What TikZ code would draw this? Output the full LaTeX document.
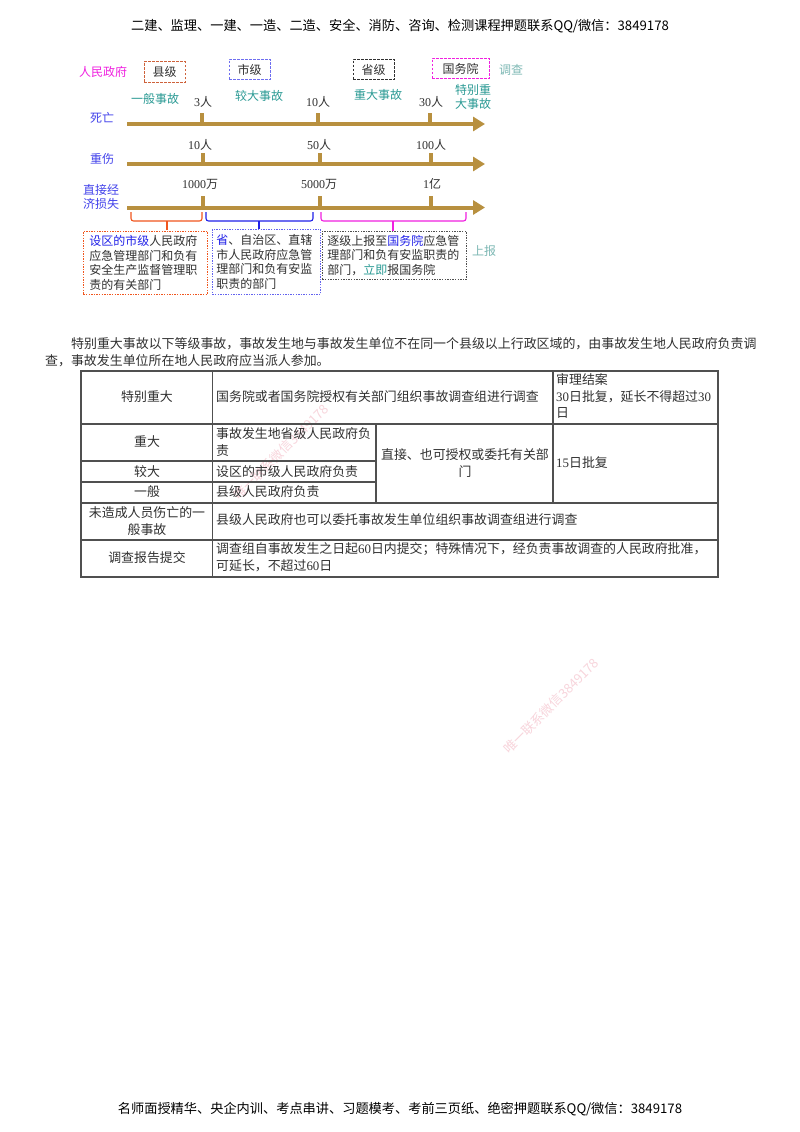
\documentclass[tikz,border=0pt]{standalone}
\usepackage{fontspec}
\setmainfont{Noto Sans CJK SC}
\newfontfamily\latf{Liberation Serif}
\usetikzlibrary{arrows.meta}
\newcommand{\dg}[1]{{\latf #1}}
\definecolor{axisc}{HTML}{B8903F}
\definecolor{tealc}{HTML}{2A9A94}
\definecolor{lteal}{HTML}{7DB8B4}
\definecolor{blk}{HTML}{303030}
\definecolor{wm}{HTML}{F8D5DC}
\definecolor{grid}{HTML}{505050}
\definecolor{orc}{HTML}{F0561E}
\definecolor{blc}{HTML}{2020E8}
\definecolor{mgc}{HTML}{F020E0}
\tikzset{
 lab/.style={inner sep=0pt,text=blk,align=center,font=\fontsize{12}{14.7}\selectfont},
 tealt/.style={lab,text=tealc},
 bluet/.style={lab,text=blc!85!white},
 headt/.style={inner sep=0pt,text=black,font=\fontsize{13.2}{15}\selectfont},
 para/.style={inner sep=0pt,anchor=west,text=blk,font=\fontsize{12.93}{15}\selectfont},
 cell/.style={inner sep=0pt,text=blk,align=center,font=\fontsize{12.9}{16.5}\selectfont},
 cellw/.style={cell,anchor=west,align=left},
 axisl/.style={draw=axisc,line width=4pt,-{Triangle[length=12pt,width=14pt,fill=axisc]}},
 tickl/.style={draw=axisc,line width=3.6pt},
 brace/.style={line width=1.1pt,rounded corners=2.5pt},
 lvl/.style={lab,draw,line width=.8pt,minimum height=20.5pt,dash pattern=on 2.5pt off 1.5pt},
 dotbox/.style={lab,anchor=north west,align=left,line width=.9pt,dash pattern=on 1.4pt off 1.2pt},
 grl/.style={draw=grid,line width=1.5pt},
 water/.style={inner sep=0pt,text=wm,rotate=45,font=\fontsize{13}{15}\selectfont},
}
\begin{document}
\begin{tikzpicture}[x=1pt,y=-1pt]
\useasboundingbox[fill=white] (0,0) rectangle (800,1132);
% header and footer
\node[headt] (hd) at (400,26) {二建、监理、一建、一造、二造、安全、消防、咨询、检测课程押题联系QQ/微信：3849178};
\node[headt] (ft) at (400,1109) {名师面授精华、央企内训、考点串讲、习题模考、考前三页纸、绝密押题联系QQ/微信：3849178};
% watermarks
\node[water] (wm1) at (281,452) {唯一联系微信3849178};
\node[water] (wm2) at (551,706) {唯一联系微信3849178};
% top level boxes
\node[lab,text=mgc] (gov) at (103,72) {人民政府};
\node[lvl,draw=orc!70!gray,minimum width=41pt] (xian) at (164.5,72) {县级};
\node[lvl,draw=blc!65!white,minimum width=41pt] (shi) at (249.5,69.5) {市级};
\node[lvl,draw=blk,minimum width=41pt] (sheng) at (373.5,69.5) {省级};
\node[lvl,draw=mgc,minimum width=57pt] (gwy) at (460.5,68.5) {国务院};
\node[lab,text=lteal] (dc) at (511,70) {调查};
% grade labels
\node[tealt] (g1) at (155,99) {一般事故};
\node[tealt] (g2) at (259,96) {较大事故};
\node[tealt] (g3) at (378,95) {重大事故};
\node[tealt] (g4) at (473,97) {特别重\\大事故};
% rows
\node[bluet] (r1) at (102,118) {死亡};
\node[bluet] (r2) at (102,159) {重伤};
\node[bluet] (r3) at (101,197) {直接经\\济损失};
% axes
\coordinate (a1s) at (127,124); \coordinate (a1e) at (485,124);
\coordinate (a2s) at (127,164); \coordinate (a2e) at (485,164);
\coordinate (a3s) at (127,207.5); \coordinate (a3e) at (485,207.5);
\draw[axisl] (a1s) -- (a1e);
\draw[axisl] (a2s) -- (a2e);
\draw[axisl] (a3s) -- (a3e);
% ticks
\foreach \nm/\x/\yt/\yb in {a/202/113/124,b/318/113/124,c/430/113/124,d/203/153/164,e/320/153/164,f/431/153/164,g/203/196/207,h/320/196/207,i/431/196/207}{
 \coordinate (t\nm) at (\x,\yt); \coordinate (b\nm) at (\x,\yb);
 \draw[tickl] (t\nm) -- (b\nm);
}
% tick labels
\node[lab] (n1) at (203,102) {\dg{3}人};
\node[lab] (n2) at (318,102) {\dg{10}人};
\node[lab] (n3) at (431,102) {\dg{30}人};
\node[lab] (n4) at (200,145) {\dg{10}人};
\node[lab] (n5) at (319,145) {\dg{50}人};
\node[lab] (n6) at (431,145) {\dg{100}人};
\node[lab] (n7) at (200,184) {\dg{1000}万};
\node[lab] (n8) at (319,184) {\dg{5000}万};
\node[lab] (n9) at (432,184) {\dg{1}亿};
% explanation boxes
\node[dotbox,draw=orc,minimum width=124pt,minimum height=63pt,text width=112pt,inner xsep=5.5pt,inner ysep=2pt] (bx1) at (83,231) {\textcolor{blc}{设区的市级}人民政府\\应急管理部门和负有\\安全生产监督管理职\\责的有关部门};
\node[dotbox,draw=blc!70!white,minimum width=108pt,minimum height=65pt,text width=100pt,inner xsep=4pt,inner ysep=3pt] (bx2) at (212,229) {\textcolor{blc}{省}、自治区、直辖\\市人民政府应急管\\理部门和负有安监\\职责的部门};
\node[dotbox,draw=grid,minimum width=144pt,minimum height=48pt,text width=134pt,inner xsep=5pt,inner ysep=2pt] (bx3) at (322,231) {逐级上报至\textcolor{blc}{国务院}应急管\\理部门和负有安监职责的\\部门，\textcolor{tealc}{立即}报国务院};
\node[lab,text=lteal] (sb) at (484,251) {上报};
% braces
\coordinate (o1) at (131,212); \coordinate (o2) at (202,212);
\coordinate (u1) at (206,212); \coordinate (u2) at (313,212);
\coordinate (m1) at (321,212); \coordinate (m2) at (466,212);
\draw[brace,draw=orc] (o1) -- (131,221) -- (202,221) -- (o2);
\draw[brace,draw=orc,rounded corners=0pt] (167,221) -- (167,230);
\draw[brace,draw=blc] (u1) -- (206,221) -- (313,221) -- (u2);
\draw[brace,draw=blc,rounded corners=0pt] (259,221) -- (259,229);
\draw[brace,draw=mgc] (m1) -- (321,221) -- (466,221) -- (m2);
\draw[brace,draw=mgc,rounded corners=0pt] (393,221) -- (393,231);
% paragraph
\node[para] (p1) at (71,344) {特别重大事故以下等级事故，事故发生地与事故发生单位不在同一个县级以上行政区域的，由事故发生地人民政府负责调};
\node[para] (p2) at (45,361) {查，事故发生单位所在地人民政府应当派人参加。};
% table grid
\draw[grl] (81,371) rectangle (718,577);
\draw[grl] (81,424) -- (718,424);
\draw[grl] (81,461) -- (376,461);
\draw[grl] (81,482) -- (376,482);
\draw[grl] (81,503) -- (718,503);
\draw[grl] (81,540) -- (718,540);
\draw[grl] (212.5,371) -- (212.5,577);
\draw[grl] (376,424) -- (376,503);
\draw[grl] (553,371) -- (553,503);
% table text
\node[cell] (c11) at (147,397) {特别重大};
\node[cellw] (c12) at (216,397) {国务院或者国务院授权有关部门组织事故调查组进行调查};
\node[cellw] (c13) at (556,396) {审理结案\\\dg{30}日批复，延长不得超过\dg{30}\\日};
\node[cell] (c21) at (147,442) {重大};
\node[cellw] (c22) at (216,442) {事故发生地省级人民政府负\\责};
\node[cell] (c31) at (147,472) {较大};
\node[cellw] (c32) at (216,472) {设区的市级人民政府负责};
\node[cell] (c41) at (147,492) {一般};
\node[cellw] (c42) at (216,492) {县级人民政府负责};
\node[cell] (c23) at (465,463) {直接、也可授权或委托有关部\\门};
\node[cellw] (c24) at (556,463) {\dg{15}日批复};
\node[cell] (c51) at (147,521) {未造成人员伤亡的一\\般事故};
\node[cellw] (c52) at (216,520) {县级人民政府也可以委托事故发生单位组织事故调查组进行调查};
\node[cell] (c61) at (147,558) {调查报告提交};
\node[cellw] (c62) at (216,557) {调查组自事故发生之日起\dg{60}日内提交；特殊情况下，经负责事故调查的人民政府批准，\\可延长，不超过\dg{60}日};
\end{tikzpicture}
\end{document}
